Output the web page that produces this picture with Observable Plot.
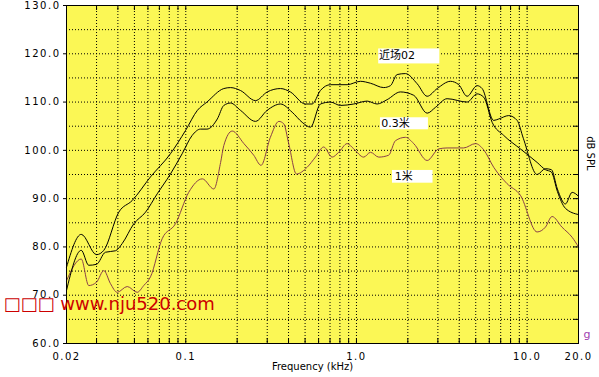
<!DOCTYPE html>
<html><head><meta charset="utf-8">
<script src="https://cdn.jsdelivr.net/npm/d3@7"></script>
<script src="https://cdn.jsdelivr.net/npm/@observablehq/plot@0.6"></script>
<style>body{margin:0;background:#fff}</style>
</head><body><div id="chart"></div>
<script>
// Series: [frequency kHz, dB SPL]
const nearField = [[0.020,75.8],[0.0244,82.6],[0.0300,78.4],[0.0331,79.3],[0.0405,87.2],[0.0485,89.6],[0.0621,94.5],[0.0813,99.3],[0.0996,104.1],[0.117,108.3],[0.133,110.0],[0.167,112.8],[0.183,113.0],[0.209,112.4],[0.256,110.3],[0.300,112.1],[0.359,112.8],[0.410,112.1],[0.502,109.6],[0.550,109.6],[0.615,112.4],[0.704,113.6],[0.882,113.6],[1.055,114.3],[1.208,113.9],[1.445,113.0],[1.582,113.4],[1.731,115.7],[1.936,115.9],[2.268,113.8],[2.596,111.2],[2.970,112.8],[3.554,114.3],[3.974,113.6],[4.45,111.2],[5.09,113.4],[5.45,112.8],[6.37,106.2],[6.82,106.5],[7.80,107.2],[8.74,106.2],[9.5,102.5],[11.44,95.0],[12.8,96.2],[13.88,96.0],[15.04,92.0],[16.76,88.9],[18.35,91.3],[20.0,90.5]];
const at03m = [[0.020,71.0],[0.0244,79.3],[0.0270,76.2],[0.0300,76.4],[0.0338,78.9],[0.0387,79.2],[0.0424,80.7],[0.0496,84.8],[0.0581,87.2],[0.0680,91.0],[0.0813,95.1],[0.0952,99.3],[0.109,103.1],[0.122,104.4],[0.133,104.4],[0.153,106.5],[0.167,109.3],[0.183,109.8],[0.209,108.3],[0.256,106.0],[0.300,108.3],[0.359,109.6],[0.420,107.9],[0.481,105.8],[0.538,104.8],[0.615,109.6],[0.704,110.0],[0.806,109.3],[0.964,109.6],[1.155,110.2],[1.322,109.6],[1.512,110.5],[1.810,112.1],[2.166,111.4],[2.596,107.7],[2.902,108.9],[3.398,110.7],[4.45,110.0],[5.09,111.7],[5.57,111.0],[6.24,105.8],[7.29,103.1],[9.13,100.3],[11.44,97.5],[12.8,96.0],[13.88,95.5],[15.04,91.5],[16.76,88.0],[20.0,86.7]];
const at1m = [[0.020,73.0],[0.0244,77.5],[0.0270,72.0],[0.0300,72.7],[0.0331,75.1],[0.0362,72.4],[0.0396,70.6],[0.0454,71.8],[0.0519,70.6],[0.0567,72.0],[0.0621,73.8],[0.0727,81.7],[0.0870,84.8],[0.104,91.3],[0.125,94.1],[0.146,92.0],[0.160,97.5],[0.167,101.0],[0.187,104.0],[0.219,101.4],[0.250,99.0],[0.276,96.9],[0.313,102.7],[0.351,106.0],[0.375,105.5],[0.401,101.4],[0.445,95.1],[0.514,96.5],[0.575,98.6],[0.643,100.7],[0.720,98.6],[0.787,99.6],[0.882,101.4],[0.964,100.3],[1.103,98.6],[1.208,99.6],[1.351,98.6],[1.545,99.0],[1.692,102.0],[1.936,102.7],[2.166,101.4],[2.596,97.9],[3.034,100.3],[3.398,100.5],[4.25,100.5],[4.98,101.4],[5.57,100.1],[6.37,96.5],[7.63,93.1],[9.13,90.7],[11.44,83.1],[12.8,84.1],[14.0,86.3],[16.0,84.1],[18.35,82.0],[20.0,80.0]];

// Axes
const yTicks = [60,70,80,90,100,110,120,130];
const yGrid = [65,70,75,80,85,90,95,100,105,110,115,120,125];
const yEdgeTicks = [60,65,70,75,80,85,90,95,100,105,110,115,120,125,130];
const xTicks = [0.02,0.1,1,10,20];
const xTickLabels = ["0.02","0.1","1.0","10.0","20.0"];
const xGrid = [0.03,0.04,0.05,0.06,0.07,0.08,0.09,0.1,0.2,0.3,0.4,0.5,0.6,0.7,0.8,0.9,1,2,3,4,5,6,7,8,9,10];

// Legend labels (anchored in data units: freq kHz, dB)
const legendNames = ["近场02","0.3米","1米"];
const legendAnchor = [[1.354,119.65],[1.395,105.5],[1.676,94.66]];
const legendBox = [[1.35,3.08,117.9,121.0],[1.382,2.64,104.26,106.75],[1.626,2.81,93.2,95.84]];

const watermark = "□□□ www.nju520.com";
const xLabel = "Frequency (kHz)";
const yLabel = "dB SPL";

const labelMap = new Map(xTicks.map((d,i)=>[d,xTickLabels[i]]));
const legend = legendNames.map((n,i)=>({name:n, x:legendAnchor[i][0], y:legendAnchor[i][1],
  x1:legendBox[i][0], x2:legendBox[i][1], y1:legendBox[i][2], y2:legendBox[i][3]}));

const font = "DejaVu Sans, Noto Sans CJK SC, sans-serif";
const chart = Plot.plot({
  width: 599, height: 377,
  marginLeft: 66, marginRight: 21, marginTop: 5, marginBottom: 34,
  style: {background: "#fff", fontFamily: font, fontSize: "10px", color: "#000"},
  x: {type: "log", domain: [0.02, 20], axis: null},
  y: {domain: [60, 130], axis: null},
  marks: [
    Plot.frame({fill: "#fbf755"}),
    Plot.ruleY(yGrid, {stroke: "#000", strokeDasharray: "1,2", strokeWidth: 1}),
    Plot.ruleX(xGrid, {stroke: "#000", strokeDasharray: "1,2", strokeWidth: 1}),
    Plot.tickX(xGrid, {insetTop: 333, stroke: "#000"}),
    Plot.tickX(xGrid, {insetBottom: 333, stroke: "#000"}),
    Plot.tickY(yEdgeTicks, {insetLeft: 507, stroke: "#000"}),
    Plot.line(at1m, {x: d=>d[0], y: d=>d[1], stroke: "#8a4048", strokeWidth: 1, curve: "monotone-x"}),
    Plot.line(at03m, {x: d=>d[0], y: d=>d[1], stroke: "#000", strokeWidth: 1, curve: "monotone-x"}),
    Plot.line(nearField, {x: d=>d[0], y: d=>d[1], stroke: "#000", strokeWidth: 1, curve: "monotone-x"}),
    Plot.rect(legend, {x1: "x1", x2: "x2", y1: "y1", y2: "y2", fill: "#fff"}),
    Plot.text(legend, {x: "x", y: "y", text: "name", textAnchor: "start", fontSize: 11, fill: "#000", ariaLabel: "legend"}),
    Plot.frame({stroke: "#000", strokeWidth: 1}),
    Plot.axisY(yTicks, {anchor: "left", tickSize: 3, tickPadding: 3, tickFormat: d=>d.toFixed(1), label: null, fontSize: 10}),
    Plot.axisX(xTicks, {anchor: "bottom", tickSize: 0, tickPadding: 9, tickFormat: d=>labelMap.get(d), label: null, fontSize: 10}),
    Plot.text([xLabel], {frameAnchor: "bottom", dx: -10, dy: 26, fontSize: 10, fill: "#000", ariaLabel: "xlabel"}),
    Plot.text([yLabel], {frameAnchor: "right", rotate: 90, dx: 12, dy: -4, fontSize: 10, fill: "#000", ariaLabel: "ylabel"}),
    Plot.text(["g"], {frameAnchor: "bottom-right", dx: 5, dy: -6, textAnchor: "start", fontSize: 11, fill: "#a040b0", ariaLabel: "g"}),
    Plot.text([watermark], {frameAnchor: "bottom-left", dx: -63, dy: -34, textAnchor: "start", fontSize: 18, fill: "#cc0000", fontFamily: "DejaVu Sans, sans-serif", ariaLabel: "watermark"})
  ]
});
document.getElementById("chart").appendChild(chart);
d3.select(chart).selectAll('g[aria-label="y-axis tick label"] text, g[aria-label="x-axis tick label"] text')
  .style("letter-spacing", "1.5px");
d3.select(chart).selectAll('g[aria-label="ylabel"] text').style("letter-spacing", "3px");
</script>
</body></html>
